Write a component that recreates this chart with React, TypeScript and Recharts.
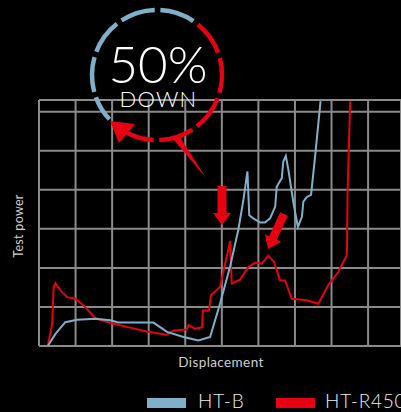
import { LineChart, Line, XAxis, YAxis, CartesianGrid } from 'recharts'

const xTicks = [0, 1, 2, 3, 4, 5, 6, 7, 8, 9]
const yTicks = [0, 1, 2, 3, 4, 5, 6]

const seriesNames = ['HT-B', 'HT-R450']
const seriesColors = ['#7fb0c9', '#e60012']

const htbX = [0.24, 0.45, 0.72, 1.04, 1.54, 1.95, 2.17, 3.13, 3.5, 3.95, 4.36, 4.68, 4.95, 5.23, 5.45, 5.59, 5.7, 5.75, 5.86, 6.05, 6.18, 6.32, 6.46, 6.5, 6.64, 6.68, 6.75, 6.82, 6.96, 7.08, 7.19, 7.23, 7.32, 7.44, 7.55, 7.7]
const htbY = [0, 0.31, 0.61, 0.67, 0.7, 0.66, 0.6, 0.6, 0.36, 0.23, 0.14, 0.23, 1.08, 2.05, 2.97, 3.74, 4.47, 3.35, 3.27, 3.16, 3.16, 3.27, 3.57, 4.08, 4.3, 4.72, 4.87, 4.51, 3.66, 3.05, 3.31, 3.7, 3.81, 3.87, 4.85, 6.27]

const r450X = [0.24, 0.36, 0.4, 0.45, 0.58, 0.77, 0.99, 1.22, 1.54, 2.04, 2.49, 2.95, 3.5, 3.68, 4.04, 4.09, 4.27, 4.46, 4.48, 4.65, 4.7, 4.95, 5.09, 5.23, 5.27, 5.5, 5.73, 5.91, 6.09, 6.27, 6.43, 6.59, 6.73, 6.91, 7.32, 7.64, 7.91, 8.19, 8.42, 8.44, 8.51]
const r450Y = [0, 0.57, 1.51, 1.61, 1.43, 1.25, 1.21, 1.04, 0.71, 0.57, 0.47, 0.37, 0.29, 0.4, 0.42, 0.54, 0.44, 0.48, 0.91, 0.91, 1.3, 1.51, 2.11, 2.69, 1.6, 1.7, 2.03, 2.13, 2.11, 2.31, 2.15, 1.68, 1.68, 1.21, 1.17, 1.08, 1.56, 1.9, 2.33, 4.0, 6.27]

const htbData = htbX.map((x, i) => ({ x, y: htbY[i] }))
const r450Data = r450X.map((x, i) => ({ x, y: r450Y[i] }))

const FONT = 'Lato, "Open Sans", sans-serif'

// badge ring, dashes every 36 degrees (screen angles, clockwise)
const CX = 157
const CY = 75
const R = 65
const dashStarts = [129, 165, 201, 237, 273, 309, 345, 381, 417, 453]

function arcPath(a0: number, a1: number) {
  const p = (a: number) => {
    const t = (a * Math.PI) / 180
    return `${CX + R * Math.cos(t)} ${CY + R * Math.sin(t)}`
  }
  return `M ${p(a0)} A ${R} ${R} 0 0 1 ${p(a1)}`
}

function arrowPoints(sx: number, sy: number, tx: number, ty: number, shaft: number, head: number, headLen: number) {
  const len = Math.hypot(tx - sx, ty - sy)
  const ux = (tx - sx) / len
  const uy = (ty - sy) / len
  const nx = -uy
  const ny = ux
  const bx = tx - ux * headLen
  const by = ty - uy * headLen
  const pts = [
    [sx + (nx * shaft) / 2, sy + (ny * shaft) / 2],
    [bx + (nx * shaft) / 2, by + (ny * shaft) / 2],
    [bx + (nx * head) / 2, by + (ny * head) / 2],
    [tx, ty],
    [bx - (nx * head) / 2, by - (ny * head) / 2],
    [bx - (nx * shaft) / 2, by - (ny * shaft) / 2],
    [sx - (nx * shaft) / 2, sy - (ny * shaft) / 2],
  ]
  return pts.map((p) => p.join(',')).join(' ')
}

function Overlay() {
  return (
    <svg width={401} height={412} style={{ position: 'absolute', left: 0, top: 0, pointerEvents: 'none' }}>
      {dashStarts.map((a, i) => {
        const start = i === 0 ? 137 : a
        const end = i === 9 ? a + 25 : a + 31
        return (
          <path
            key={a}
            d={arcPath(start, end)}
            fill="none"
            stroke={i < 5 ? seriesColors[0] : seriesColors[1]}
            strokeWidth={4.5}
          />
        )
      })}
      <polygon points="110,121 135,124 119,143" fill={seriesColors[1]} />
      <polygon points="173,139 180,137 206,178" fill={seriesColors[1]} />
      <text textAnchor="middle" fill="#fff" fontWeight={300} fontFamily={FONT}>
        <tspan x={158} y={83} fontSize={51}>
          50%
        </tspan>
        <tspan x={158.5} y={106.7} fontSize={22} letterSpacing={1.2}>
          DOWN
        </tspan>
      </text>
      <polygon points={arrowPoints(222, 186, 222, 225, 9, 18, 12)} fill={seriesColors[1]} />
      <polygon points={arrowPoints(284, 214, 268, 249, 8.5, 18, 12)} fill={seriesColors[1]} />
      <text
        x={0}
        y={0}
        transform="translate(23,226) rotate(-90)"
        textAnchor="middle"
        fill="#cfcfcf"
        fontSize={12.5}
        fontFamily={FONT}
        letterSpacing={0.3}
      >
        Test power
      </text>
      <text x={221} y={367} textAnchor="middle" fill="#cfcfcf" fontSize={13.5} fontFamily={FONT} letterSpacing={0.4}>
        Displacement
      </text>
    </svg>
  )
}

function LegendRow() {
  const spots = [
    { rect: 147, text: 198 },
    { rect: 276, text: 325 },
  ]
  return (
    <>
      {seriesNames.map((name, i) => (
        <div key={name}>
          <div
            style={{
              position: 'absolute',
              left: spots[i].rect,
              top: 398,
              width: 39,
              height: 10,
              background: seriesColors[i],
            }}
          />
          <div
            style={{
              position: 'absolute',
              left: spots[i].text,
              top: 389,
              fontSize: 19,
              lineHeight: '24px',
              letterSpacing: 0.8,
              color: '#eee',
              fontFamily: FONT,
              fontWeight: 300,
              whiteSpace: 'nowrap',
            }}
          >
            {name}
          </div>
        </div>
      ))}
    </>
  )
}

export default function App() {
  return (
    <div
      style={{
        position: 'fixed',
        left: 0,
        top: 0,
        width: 401,
        height: 412,
        background: '#000',
        overflow: 'hidden',
      }}
    >
      <LineChart width={401} height={412} margin={{ top: 100, right: 0, bottom: 66, left: 39 }}>
        <CartesianGrid stroke="#8a8a8a" strokeWidth={2} />
        <XAxis dataKey="x" type="number" domain={[0, 9.9]} ticks={xTicks} hide allowDuplicatedCategory={false} />
        <YAxis type="number" domain={[0, 6.3]} ticks={yTicks} hide />
        <Line data={r450Data} dataKey="y" type="linear" stroke={seriesColors[1]} strokeWidth={2} dot={false} isAnimationActive={false} />
        <Line data={htbData} dataKey="y" type="linear" stroke={seriesColors[0]} strokeWidth={2} dot={false} isAnimationActive={false} />
      </LineChart>
      <Overlay />
      <LegendRow />
    </div>
  )
}
